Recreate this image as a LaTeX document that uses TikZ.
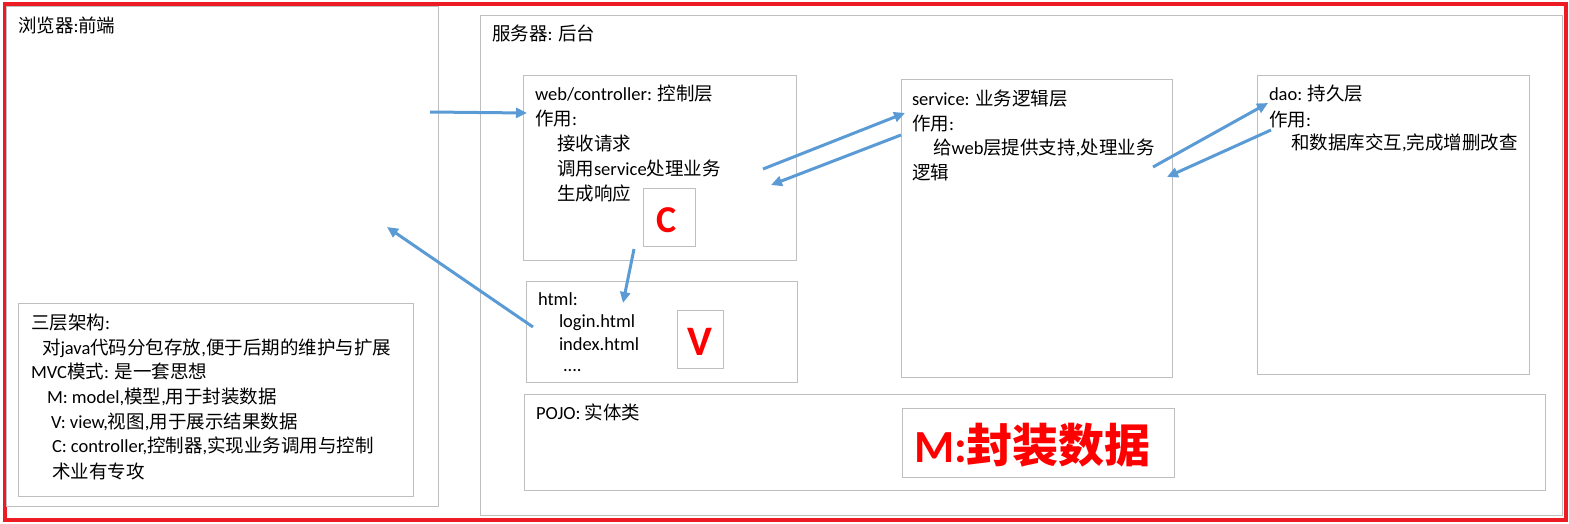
\documentclass[tikz,border=0pt]{standalone}
\usepackage{fontspec}
\setmainfont{Carlito}
\newfontfamily\lat{Carlito}
\newfontfamily\cjk{Noto Sans CJK SC}
\usetikzlibrary{arrows.meta}
\XeTeXinterchartokenstate=1
\newXeTeXintercharclass\CJKcls
\newcount\cjkc
\cjkc="4E00
\loop
  \XeTeXcharclass\cjkc=\CJKcls
  \advance\cjkc by 1
\ifnum\cjkc<"A000 \repeat
\XeTeXinterchartoks 0 \CJKcls={\cjk}
\XeTeXinterchartoks 4095 \CJKcls={\cjk}
\XeTeXinterchartoks \CJKcls 0={\lat}
\XeTeXinterchartoks \CJKcls 4095={\lat}
\definecolor{frameRed}{HTML}{ED1C24}
\definecolor{boxGray}{HTML}{BFBFBF}
\definecolor{arrowBlue}{HTML}{5B9BD5}
\definecolor{txtRed}{HTML}{FF0000}
\tikzset{
  every node/.style={font=\fontsize{18.5}{22}\selectfont, inner sep=0pt, outer sep=0pt},
  box/.style={draw=boxGray, line width=1pt, rectangle, anchor=north west},
  txt/.style={anchor=base west, text=black},
  flow/.style={draw=arrowBlue, line width=3pt, -{Triangle[length=11pt,width=10pt]}},
}
\begin{document}
\begin{tikzpicture}[x=1pt,y=-1pt]
\useasboundingbox (0,0) rectangle (1569,523);
% outer red frame
\draw[frameRed, line width=4pt] (4.5,3.5) rectangle (1565.5,520);

% browser
\node[box, minimum width=432pt, minimum height=500pt] (browser) at (6,6) {};
\node[txt] (browserlbl) at (18,32) {浏览器:前端};

% notes box
\node[box, minimum width=395pt, minimum height=193pt] (notes) at (18,303) {};
\node[txt] (n1) at (31,329.5) {三层架构:};
\node[txt] (n2) at (42,354.5) {对java代码分包存放,便于后期的维护与扩展};
\node[txt] (n3) at (31,378.5) {MVC模式: 是一套思想};
\node[txt] (n4) at (47,403.5) {M: model,模型,用于封装数据};
\node[txt] (n5) at (51,428.5) {V: view,视图,用于展示结果数据};
\node[txt] (n6) at (52,452.5) {C: controller,控制器,实现业务调用与控制};
\node[txt] (n7) at (52,478.5) {术业有专攻};

% server
\node[box, minimum width=1082pt, minimum height=500pt] (server) at (480,15) {};
\node[txt] (serverlbl) at (492,40) {服务器: 后台};

% controller
\node[box, minimum width=273pt, minimum height=185pt] (ctrl) at (523,75) {};
\node[txt] (c1) at (535,100) {web/controller: 控制层};
\node[txt] (c2) at (535,125) {作用:};
\node[txt] (c3) at (557,150) {接收请求};
\node[txt] (c4) at (557,175) {调用service处理业务};
\node[txt] (c5) at (557,200) {生成响应};
\node[box, minimum width=52pt, minimum height=58pt] (cbox) at (643,188) {};
\node[anchor=base, text=txtRed, font=\fontsize{38}{40}\selectfont\bfseries] (cletter) at (667,232) {C};

% service
\node[box, minimum width=271pt, minimum height=298pt] (svc) at (901,79) {};
\node[txt] (s1) at (912,105) {service: 业务逻辑层};
\node[txt] (s2) at (912,130) {作用:};
\node[txt] (s3) at (933,154) {给web层提供支持,处理业务};
\node[txt] (s4) at (912,179) {逻辑};

% dao
\node[box, minimum width=272pt, minimum height=299pt] (dao) at (1257,75) {};
\node[txt] (d1) at (1269,100) {dao: 持久层};
\node[txt] (d2) at (1269,126) {作用:};
\node[txt] (d3) at (1291,149) {和数据库交互,完成增删改查};

% html
\node[box, minimum width=271pt, minimum height=101pt] (html) at (526,281) {};
\node[txt] (h1) at (538,305) {html:};
\node[txt] (h2) at (559,327.5) {login.html};
\node[txt] (h3) at (559,350) {index.html};
\node[txt] (h4) at (563,371) {....};
\node[box, minimum width=46pt, minimum height=58pt] (vbox) at (677,310) {};
\node[anchor=base, text=txtRed, font=\fontsize{42}{44}\selectfont\bfseries] (vletter) at (700,355) {V};

% pojo
\node[box, minimum width=1021pt, minimum height=96pt] (pojo) at (524,394) {};
\node[txt] (p1) at (536,419.5) {POJO: 实体类};
\node[box, minimum width=272pt, minimum height=69pt] (mbox) at (902,408) {};
\node[anchor=base west, text=txtRed, font=\fontsize{46}{48}\selectfont\bfseries] (mtext) at (914,462) {M:封装数据};

% arrow end points
\coordinate (a1s) at (430,112);  \coordinate (a1e) at (527,113);
\coordinate (a2s) at (763,169);  \coordinate (a2e) at (905,113);
\coordinate (a3s) at (901,135);  \coordinate (a3e) at (771,185);
\coordinate (a4s) at (1153,167); \coordinate (a4e) at (1268,103);
\coordinate (a5s) at (1271,130); \coordinate (a5e) at (1167,177);
\coordinate (a6s) at (634,249);  \coordinate (a6e) at (623,303);
\coordinate (a7s) at (533,327);  \coordinate (a7e) at (387,227);

\draw[flow] (a1s) -- (a1e);
\draw[flow] (a2s) -- (a2e);
\draw[flow] (a3s) -- (a3e);
\draw[flow] (a4s) -- (a4e);
\draw[flow] (a5s) -- (a5e);
\draw[flow] (a6s) -- (a6e);
\draw[flow] (a7s) -- (a7e);
\end{tikzpicture}
\end{document}
